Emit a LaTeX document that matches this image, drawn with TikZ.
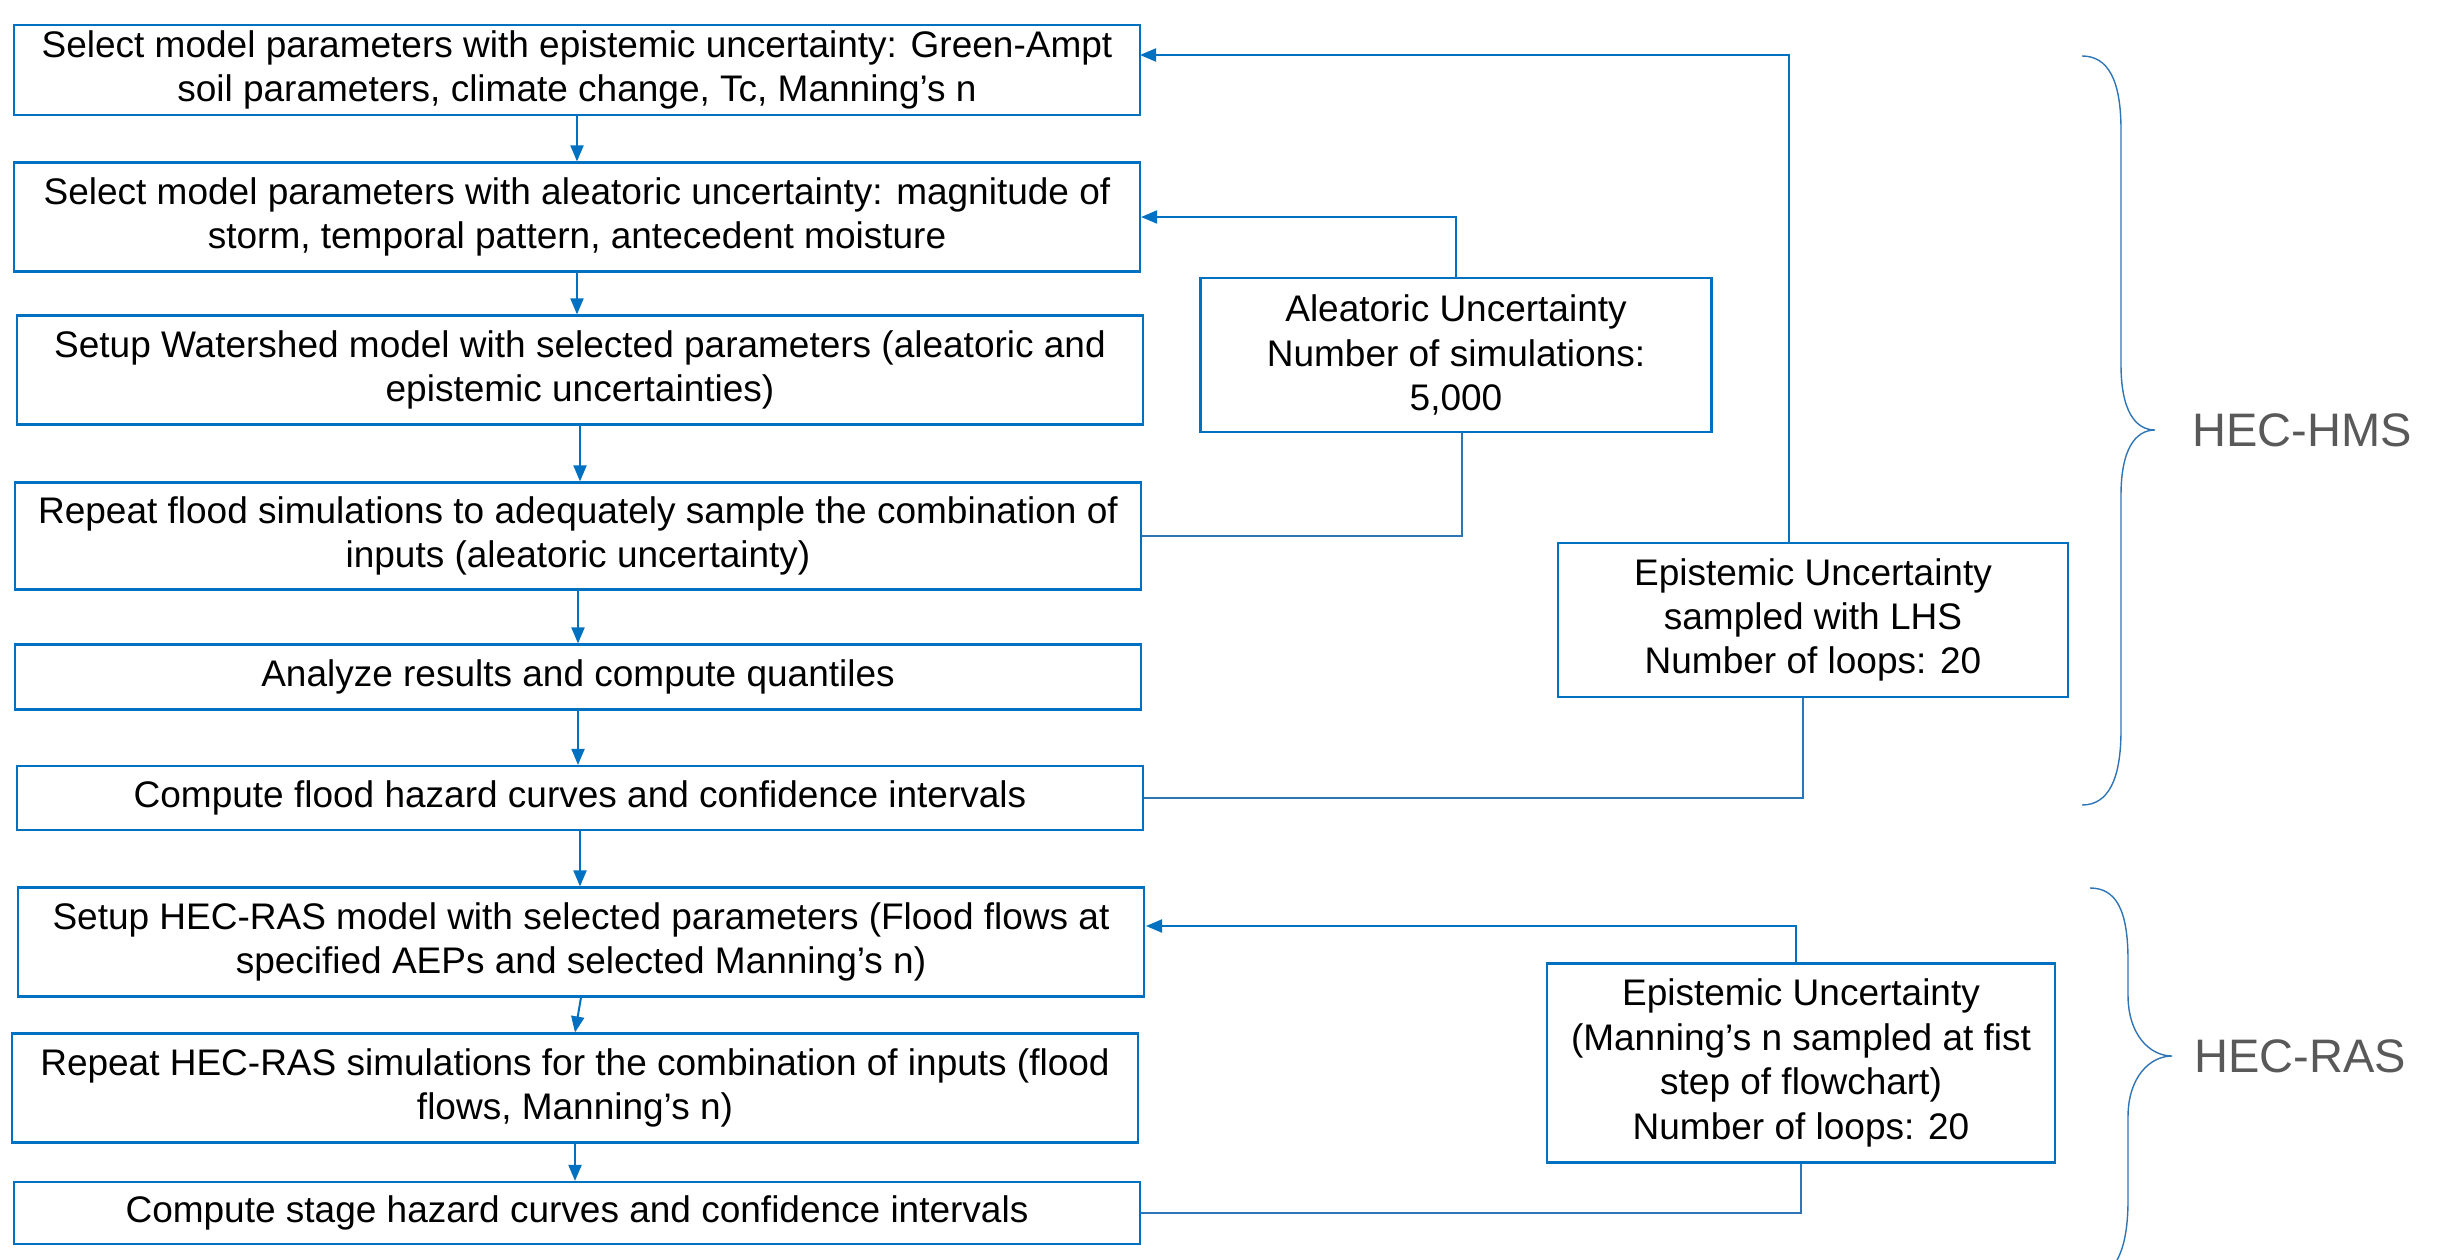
\documentclass[tikz,border=0pt]{standalone}
\usepackage{fontspec}
\setmainfont{Liberation Sans}
\usetikzlibrary{arrows.meta,calc}
\definecolor{bblue}{HTML}{0070C0}
\definecolor{lblue}{HTML}{2E75B6}
\definecolor{lgray}{HTML}{595959}
\begin{document}
\begin{tikzpicture}[x=1pt,y=-1pt,
  box/.style={draw=bblue,line width=2.2pt,rectangle,inner sep=0pt,align=center,
    font=\fontsize{37}{44.4}\selectfont,text=black,minimum width=1126pt},
  sbox/.style={box,minimum width=510pt},
  arr/.style={draw=bblue,line width=2pt,-{Triangle[length=16pt,width=13pt]}},
  ret/.style={draw=lblue,line width=1.4pt},
  brace/.style={draw=lblue,line width=1.4pt},
  lab/.style={font=\fontsize{47}{56}\selectfont,text=lgray}]
\useasboundingbox (0,0) rectangle (2445,1259);
\node[box,minimum height=90pt] (B1) at (577,70) {Select model parameters with epistemic uncertainty: Green-Ampt\\soil parameters, climate change, Tc, Manning’s n};
\node[box,minimum height=109pt] (B2) at (577,217) {Select model parameters with aleatoric uncertainty: magnitude of\\storm, temporal pattern, antecedent moisture};
\node[box,minimum height=109pt] (B3) at (580,370) {Setup Watershed model with selected parameters (aleatoric and\\epistemic uncertainties)};
\node[box,minimum height=107pt] (B4) at (578,536) {Repeat flood simulations to adequately sample the combination of\\inputs (aleatoric uncertainty)};
\node[box,minimum height=65pt] (B5) at (578,677) {Analyze results and compute quantiles};
\node[box,minimum height=64pt] (B6) at (580,798) {Compute flood hazard curves and confidence intervals};
\node[box,minimum height=109pt] (B7) at (581,942) {Setup HEC-RAS model with selected parameters (Flood flows at\\specified AEPs and selected Manning’s n)};
\node[box,minimum height=109pt] (B8) at (575,1088) {Repeat HEC-RAS simulations for the combination of inputs (flood\\flows, Manning’s n)};
\node[box,minimum height=62pt] (B9) at (577,1213) {Compute stage hazard curves and confidence intervals};

\node[sbox,minimum width=511pt,minimum height=154pt] (AL) at (1456,355) {Aleatoric Uncertainty\\Number of simulations:\\5,000};
\node[sbox,minimum height=154pt] (E1) at (1813,620) {Epistemic Uncertainty\\sampled with LHS\\Number of loops: 20};
\node[sbox,minimum width=508pt,minimum height=199pt] (E2) at (1801,1063) {Epistemic Uncertainty\\(Manning’s n sampled at fist\\step of flowchart)\\Number of loops: 20};

% main chain
\draw[arr] (B1.south) -- (B1.south |- B2.north);
\draw[arr] (B2.south) -- (B2.south |- B3.north);
\draw[arr] (B3.south) -- (B3.south |- B4.north);
\draw[arr] (B4.south) -- (B4.south |- B5.north);
\draw[arr] (B5.south) -- (B5.south |- B6.north);
\draw[arr] (B6.south) -- (B6.south |- B7.north);
\draw[arr] (B7.south) -- (B8.north);
\draw[arr] (B8.south) -- (B8.south |- B9.north);

% loops
\coordinate (AL0) at ([xshift=6pt]AL.south);
\draw[ret] (B4.east) -| (AL0);
\draw[arr] (AL.north) |- (B2.east);

\coordinate (E1b) at ([xshift=-10pt]E1.south);
\coordinate (E1t) at ([xshift=-24pt]E1.north);
\coordinate (B1in) at (1140,55);
\draw[ret] (B6.east) -| (E1b);
\draw[arr] (E1t) |- (B1in);

\coordinate (E2t) at ([xshift=-5pt]E2.north);
\coordinate (B7in) at (1146,926);
\draw[ret] (B9.east) -| (E2.south);
\draw[arr] (E2t) |- (B7in);

% braces
\draw[brace] (2082,56) .. controls (2108,56) and (2121,80) .. (2121,130) -- (2121,365)
  .. controls (2121,410) and (2135,430) .. (2155,430)
  .. controls (2135,430) and (2121,450) .. (2121,495) -- (2121,730)
  .. controls (2121,780) and (2108,805) .. (2082,805);
\node[lab] (HMS) at (2302,430) {HEC-HMS};
\draw[brace] (2090,888) .. controls (2116,888) and (2128,910) .. (2128,960) -- (2128,995)
  .. controls (2128,1035) and (2150,1056) .. (2172,1056)
  .. controls (2150,1056) and (2128,1077) .. (2128,1117) -- (2128,1200)
  .. controls (2128,1240) and (2120,1259) .. (2110,1270);
\node[lab] (RAS) at (2300,1056) {HEC-RAS};
\end{tikzpicture}
\end{document}
